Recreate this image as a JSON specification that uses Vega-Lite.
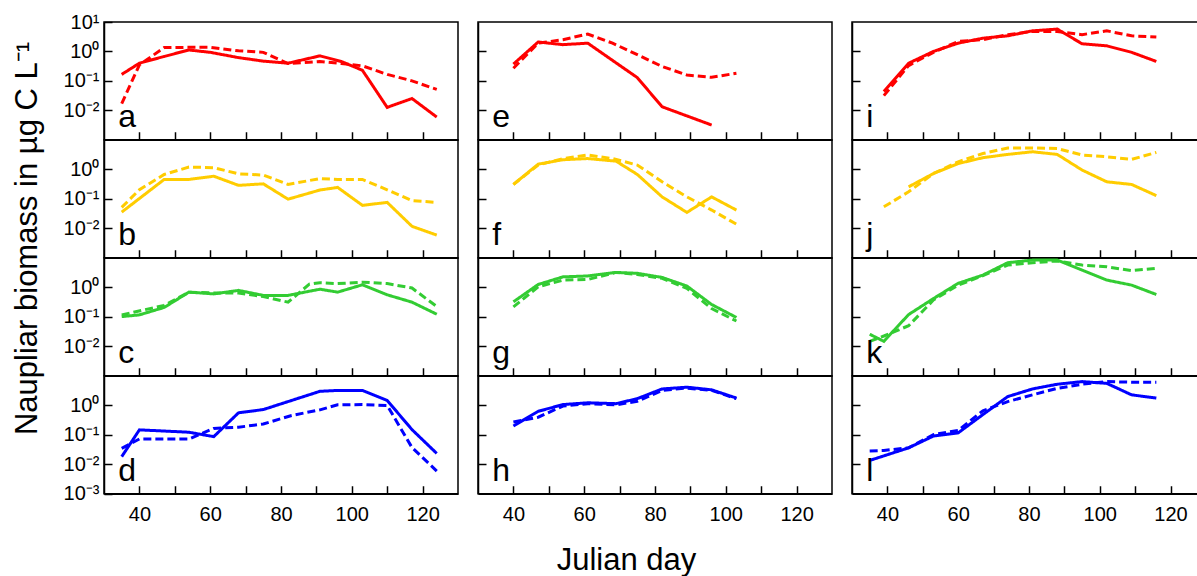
{
"$schema":"https://vega.github.io/schema/vega-lite/v6.json",
"background":"white",
"padding":{"left":10,"top":11,"right":0,"bottom":0},
"datasets":{
"bio":[
{"p":"a","s":"A","day":35,"v":0.166},{"p":"a","s":"A","day":40,"v":0.398},{"p":"a","s":"A","day":47,"v":0.676},{"p":"a","s":"A","day":54,"v":1.12},{"p":"a","s":"A","day":60,"v":0.933},{"p":"a","s":"A","day":68,"v":0.617},{"p":"a","s":"A","day":75,"v":0.468},{"p":"a","s":"A","day":82,"v":0.398},{"p":"a","s":"A","day":91,"v":0.708},{"p":"a","s":"A","day":97,"v":0.457},{"p":"a","s":"A","day":103,"v":0.229},{"p":"a","s":"A","day":110,"v":0.0126},{"p":"a","s":"A","day":117,"v":0.0251},{"p":"a","s":"A","day":124,"v":0.0059},
{"p":"a","s":"B","day":35,"v":0.017},{"p":"a","s":"B","day":40,"v":0.35},{"p":"a","s":"B","day":47,"v":1.35},{"p":"a","s":"B","day":54,"v":1.38},{"p":"a","s":"B","day":60,"v":1.38},{"p":"a","s":"B","day":68,"v":1.05},{"p":"a","s":"B","day":75,"v":0.93},{"p":"a","s":"B","day":82,"v":0.389},{"p":"a","s":"B","day":91,"v":0.457},{"p":"a","s":"B","day":97,"v":0.39},{"p":"a","s":"B","day":103,"v":0.324},{"p":"a","s":"B","day":110,"v":0.166},{"p":"a","s":"B","day":117,"v":0.1},{"p":"a","s":"B","day":124,"v":0.0513},
{"p":"b","s":"A","day":35,"v":0.0355},{"p":"b","s":"A","day":47,"v":0.457},{"p":"b","s":"A","day":54,"v":0.457},{"p":"b","s":"A","day":61,"v":0.589},{"p":"b","s":"A","day":68,"v":0.288},{"p":"b","s":"A","day":75,"v":0.324},{"p":"b","s":"A","day":82,"v":0.0977},{"p":"b","s":"A","day":91,"v":0.2},{"p":"b","s":"A","day":96,"v":0.245},{"p":"b","s":"A","day":103,"v":0.0603},{"p":"b","s":"A","day":110,"v":0.0759},{"p":"b","s":"A","day":117,"v":0.0117},{"p":"b","s":"A","day":124,"v":0.0059},
{"p":"b","s":"B","day":35,"v":0.0513},{"p":"b","s":"B","day":40,"v":0.204},{"p":"b","s":"B","day":47,"v":0.676},{"p":"b","s":"B","day":54,"v":1.2},{"p":"b","s":"B","day":61,"v":1.15},{"p":"b","s":"B","day":68,"v":0.708},{"p":"b","s":"B","day":75,"v":0.646},{"p":"b","s":"B","day":82,"v":0.309},{"p":"b","s":"B","day":91,"v":0.49},{"p":"b","s":"B","day":96,"v":0.457},{"p":"b","s":"B","day":103,"v":0.457},{"p":"b","s":"B","day":110,"v":0.204},{"p":"b","s":"B","day":117,"v":0.087},{"p":"b","s":"B","day":124,"v":0.0759},
{"p":"c","s":"A","day":35,"v":0.102},{"p":"c","s":"A","day":40,"v":0.117},{"p":"c","s":"A","day":47,"v":0.209},{"p":"c","s":"A","day":54,"v":0.692},{"p":"c","s":"A","day":61,"v":0.603},{"p":"c","s":"A","day":68,"v":0.794},{"p":"c","s":"A","day":75,"v":0.537},{"p":"c","s":"A","day":82,"v":0.537},{"p":"c","s":"A","day":91,"v":0.871},{"p":"c","s":"A","day":96,"v":0.692},{"p":"c","s":"A","day":103,"v":1.23},{"p":"c","s":"A","day":110,"v":0.562},{"p":"c","s":"A","day":117,"v":0.316},{"p":"c","s":"A","day":124,"v":0.123},
{"p":"c","s":"B","day":35,"v":0.117},{"p":"c","s":"B","day":47,"v":0.245},{"p":"c","s":"B","day":54,"v":0.692},{"p":"c","s":"B","day":61,"v":0.646},{"p":"c","s":"B","day":68,"v":0.646},{"p":"c","s":"B","day":75,"v":0.49},{"p":"c","s":"B","day":82,"v":0.316},{"p":"c","s":"B","day":88,"v":1.29},{"p":"c","s":"B","day":91,"v":1.45},{"p":"c","s":"B","day":96,"v":1.35},{"p":"c","s":"B","day":103,"v":1.51},{"p":"c","s":"B","day":110,"v":1.35},{"p":"c","s":"B","day":117,"v":0.955},{"p":"c","s":"B","day":124,"v":0.224},
{"p":"d","s":"A","day":35,"v":0.0182},{"p":"d","s":"A","day":40,"v":0.148},{"p":"d","s":"A","day":54,"v":0.123},{"p":"d","s":"A","day":61,"v":0.087},{"p":"d","s":"A","day":68,"v":0.562},{"p":"d","s":"A","day":75,"v":0.724},{"p":"d","s":"A","day":91,"v":3.02},{"p":"d","s":"A","day":96,"v":3.24},{"p":"d","s":"A","day":103,"v":3.24},{"p":"d","s":"A","day":110,"v":1.48},{"p":"d","s":"A","day":117,"v":0.151},{"p":"d","s":"A","day":124,"v":0.0234},
{"p":"d","s":"B","day":35,"v":0.0347},{"p":"d","s":"B","day":40,"v":0.0724},{"p":"d","s":"B","day":54,"v":0.0724},{"p":"d","s":"B","day":61,"v":0.166},{"p":"d","s":"B","day":68,"v":0.182},{"p":"d","s":"B","day":75,"v":0.234},{"p":"d","s":"B","day":83,"v":0.457},{"p":"d","s":"B","day":91,"v":0.708},{"p":"d","s":"B","day":96,"v":1.05},{"p":"d","s":"B","day":103,"v":1.07},{"p":"d","s":"B","day":110,"v":1.0},{"p":"d","s":"B","day":117,"v":0.0372},{"p":"d","s":"B","day":124,"v":0.0059},
{"p":"e","s":"A","day":40,"v":0.372},{"p":"e","s":"A","day":47,"v":2.09},{"p":"e","s":"A","day":54,"v":1.7},{"p":"e","s":"A","day":61,"v":1.91},{"p":"e","s":"A","day":75,"v":0.129},{"p":"e","s":"A","day":82,"v":0.0132},{"p":"e","s":"A","day":96,"v":0.00316},
{"p":"e","s":"B","day":40,"v":0.269},{"p":"e","s":"B","day":47,"v":1.91},{"p":"e","s":"B","day":54,"v":2.51},{"p":"e","s":"B","day":61,"v":3.89},{"p":"e","s":"B","day":68,"v":1.91},{"p":"e","s":"B","day":75,"v":0.776},{"p":"e","s":"B","day":82,"v":0.309},{"p":"e","s":"B","day":89,"v":0.158},{"p":"e","s":"B","day":96,"v":0.132},{"p":"e","s":"B","day":103,"v":0.182},
{"p":"f","s":"A","day":40,"v":0.309},{"p":"f","s":"A","day":47,"v":1.51},{"p":"f","s":"A","day":54,"v":2.14},{"p":"f","s":"A","day":61,"v":2.34},{"p":"f","s":"A","day":69,"v":1.91},{"p":"f","s":"A","day":75,"v":0.676},{"p":"f","s":"A","day":82,"v":0.117},{"p":"f","s":"A","day":89,"v":0.0347},{"p":"f","s":"A","day":96,"v":0.117},{"p":"f","s":"A","day":103,"v":0.0417},
{"p":"f","s":"B","day":40,"v":0.309},{"p":"f","s":"B","day":47,"v":1.41},{"p":"f","s":"B","day":54,"v":2.34},{"p":"f","s":"B","day":61,"v":3.09},{"p":"f","s":"B","day":68,"v":2.34},{"p":"f","s":"B","day":75,"v":1.41},{"p":"f","s":"B","day":82,"v":0.38},{"p":"f","s":"B","day":89,"v":0.117},{"p":"f","s":"B","day":96,"v":0.0417},{"p":"f","s":"B","day":103,"v":0.0138},
{"p":"g","s":"A","day":40,"v":0.324},{"p":"g","s":"A","day":47,"v":1.26},{"p":"g","s":"A","day":54,"v":2.29},{"p":"g","s":"A","day":61,"v":2.45},{"p":"g","s":"A","day":69,"v":3.24},{"p":"g","s":"A","day":75,"v":3.02},{"p":"g","s":"A","day":82,"v":2.19},{"p":"g","s":"A","day":89,"v":1.12},{"p":"g","s":"A","day":96,"v":0.263},{"p":"g","s":"A","day":103,"v":0.0955},
{"p":"g","s":"B","day":40,"v":0.219},{"p":"g","s":"B","day":47,"v":1.05},{"p":"g","s":"B","day":54,"v":1.78},{"p":"g","s":"B","day":61,"v":1.86},{"p":"g","s":"B","day":69,"v":3.24},{"p":"g","s":"B","day":75,"v":2.75},{"p":"g","s":"B","day":82,"v":2.04},{"p":"g","s":"B","day":89,"v":0.933},{"p":"g","s":"B","day":96,"v":0.191},{"p":"g","s":"B","day":103,"v":0.0724},
{"p":"h","s":"A","day":40,"v":0.2},{"p":"h","s":"A","day":47,"v":0.631},{"p":"h","s":"A","day":54,"v":1.07},{"p":"h","s":"A","day":61,"v":1.23},{"p":"h","s":"A","day":69,"v":1.15},{"p":"h","s":"A","day":75,"v":1.7},{"p":"h","s":"A","day":82,"v":3.63},{"p":"h","s":"A","day":89,"v":4.17},{"p":"h","s":"A","day":96,"v":3.39},{"p":"h","s":"A","day":103,"v":1.78},
{"p":"h","s":"B","day":40,"v":0.275},{"p":"h","s":"B","day":47,"v":0.398},{"p":"h","s":"B","day":54,"v":0.955},{"p":"h","s":"B","day":61,"v":1.15},{"p":"h","s":"B","day":69,"v":1.05},{"p":"h","s":"B","day":75,"v":1.38},{"p":"h","s":"B","day":82,"v":3.24},{"p":"h","s":"B","day":89,"v":3.89},{"p":"h","s":"B","day":96,"v":3.24},{"p":"h","s":"B","day":103,"v":1.7},
{"p":"i","s":"A","day":39,"v":0.0437},{"p":"i","s":"A","day":46,"v":0.398},{"p":"i","s":"A","day":53,"v":1.0},{"p":"i","s":"A","day":60,"v":1.91},{"p":"i","s":"A","day":67,"v":2.82},{"p":"i","s":"A","day":74,"v":3.39},{"p":"i","s":"A","day":81,"v":5.01},{"p":"i","s":"A","day":88,"v":5.75},{"p":"i","s":"A","day":95,"v":1.82},{"p":"i","s":"A","day":102,"v":1.55},{"p":"i","s":"A","day":109,"v":0.933},{"p":"i","s":"A","day":116,"v":0.457},
{"p":"i","s":"B","day":39,"v":0.0316},{"p":"i","s":"B","day":46,"v":0.331},{"p":"i","s":"B","day":53,"v":0.933},{"p":"i","s":"B","day":60,"v":2.19},{"p":"i","s":"B","day":67,"v":2.51},{"p":"i","s":"B","day":74,"v":3.72},{"p":"i","s":"B","day":81,"v":4.79},{"p":"i","s":"B","day":88,"v":4.79},{"p":"i","s":"B","day":95,"v":3.72},{"p":"i","s":"B","day":102,"v":5.01},{"p":"i","s":"B","day":109,"v":3.39},{"p":"i","s":"B","day":116,"v":3.09},
{"p":"j","s":"A","day":46,"v":0.257},{"p":"j","s":"A","day":53,"v":0.724},{"p":"j","s":"A","day":60,"v":1.58},{"p":"j","s":"A","day":67,"v":2.51},{"p":"j","s":"A","day":74,"v":3.24},{"p":"j","s":"A","day":81,"v":3.98},{"p":"j","s":"A","day":88,"v":3.24},{"p":"j","s":"A","day":95,"v":0.955},{"p":"j","s":"A","day":102,"v":0.38},{"p":"j","s":"A","day":109,"v":0.309},{"p":"j","s":"A","day":116,"v":0.129},
{"p":"j","s":"B","day":39,"v":0.0537},{"p":"j","s":"B","day":46,"v":0.174},{"p":"j","s":"B","day":53,"v":0.724},{"p":"j","s":"B","day":60,"v":1.82},{"p":"j","s":"B","day":67,"v":3.47},{"p":"j","s":"B","day":74,"v":5.37},{"p":"j","s":"B","day":81,"v":5.37},{"p":"j","s":"B","day":88,"v":5.13},{"p":"j","s":"B","day":95,"v":3.09},{"p":"j","s":"B","day":102,"v":2.69},{"p":"j","s":"B","day":109,"v":2.19},{"p":"j","s":"B","day":116,"v":3.8},
{"p":"k","s":"A","day":35,"v":0.0257},{"p":"k","s":"A","day":39,"v":0.0148},{"p":"k","s":"A","day":46,"v":0.12},{"p":"k","s":"A","day":53,"v":0.417},{"p":"k","s":"A","day":60,"v":1.38},{"p":"k","s":"A","day":67,"v":2.63},{"p":"k","s":"A","day":74,"v":6.92},{"p":"k","s":"A","day":81,"v":8.51},{"p":"k","s":"A","day":88,"v":8.51},{"p":"k","s":"A","day":95,"v":3.89},{"p":"k","s":"A","day":102,"v":1.78},{"p":"k","s":"A","day":109,"v":1.2},{"p":"k","s":"A","day":116,"v":0.575},
{"p":"k","s":"B","day":35,"v":0.0148},{"p":"k","s":"B","day":39,"v":0.0224},{"p":"k","s":"B","day":46,"v":0.05},{"p":"k","s":"B","day":53,"v":0.372},{"p":"k","s":"B","day":60,"v":1.2},{"p":"k","s":"B","day":67,"v":2.51},{"p":"k","s":"B","day":74,"v":5.75},{"p":"k","s":"B","day":81,"v":6.92},{"p":"k","s":"B","day":88,"v":7.94},{"p":"k","s":"B","day":95,"v":5.75},{"p":"k","s":"B","day":102,"v":5.01},{"p":"k","s":"B","day":109,"v":3.72},{"p":"k","s":"B","day":116,"v":4.47},
{"p":"l","s":"A","day":35,"v":0.0135},{"p":"l","s":"A","day":46,"v":0.0363},{"p":"l","s":"A","day":53,"v":0.0912},{"p":"l","s":"A","day":60,"v":0.117},{"p":"l","s":"A","day":67,"v":0.49},{"p":"l","s":"A","day":74,"v":2.0},{"p":"l","s":"A","day":81,"v":3.63},{"p":"l","s":"A","day":88,"v":5.25},{"p":"l","s":"A","day":95,"v":6.46},{"p":"l","s":"A","day":102,"v":5.62},{"p":"l","s":"A","day":109,"v":2.29},{"p":"l","s":"A","day":116,"v":1.78},
{"p":"l","s":"B","day":35,"v":0.0282},{"p":"l","s":"B","day":39,"v":0.0295},{"p":"l","s":"B","day":46,"v":0.0363},{"p":"l","s":"B","day":53,"v":0.102},{"p":"l","s":"B","day":60,"v":0.141},{"p":"l","s":"B","day":67,"v":0.661},{"p":"l","s":"B","day":74,"v":1.35},{"p":"l","s":"B","day":81,"v":2.29},{"p":"l","s":"B","day":88,"v":3.8},{"p":"l","s":"B","day":95,"v":5.25},{"p":"l","s":"B","day":102,"v":6.46},{"p":"l","s":"B","day":109,"v":6.17},{"p":"l","s":"B","day":116,"v":6.17}
],
"letters":[{"p":"a"},{"p":"b"},{"p":"c"},{"p":"d"},{"p":"e"},{"p":"f"},{"p":"g"},{"p":"h"},{"p":"i"},{"p":"j"},{"p":"k"},{"p":"l"}]
},
"title":{"text":"Julian day","orient":"bottom","anchor":"middle","font":"Liberation Sans","fontSize":31,"fontWeight":"normal","color":"black","offset":20,"dx":20},
"config":{
"font":"Liberation Sans",
"view":{"stroke":"black","strokeWidth":1.5},
"axis":{"grid":false,"domainColor":"black","domainWidth":1.5,"tickColor":"black","tickWidth":1.5,"tickSize":-8,"labelFont":"Liberation Sans","labelFontSize":20,"labelColor":"black","labelOverlap":false,"labelFlush":false},
"axisX":{"labelPadding":19},
"axisY":{"labelPadding":13},
"text":{"font":"Liberation Sans","fontSize":32,"color":"black","align":"left","baseline":"alphabetic"},
"line":{"strokeWidth":3}
},
"spacing":17,
"hconcat":[
{"spacing":0,"bounds":"flush",
"vconcat":[
{"width":354,"height":117.75,"layer":[
{"data":{"name":"bio"},"transform":[{"filter":"datum.p==='a'"}],"mark":{"type":"line","color":"#ff0000"},"encoding":{
"x":{"field":"day","type":"quantitative","scale":{"domain":[30,130],"nice":false,"zero":false},"axis":{"values":[40,50,60,70,80,90,100,110,120],"labels":false,"title":null}},
"y":{"field":"v","type":"quantitative","scale":{"type":"log","domain":[0.001,10],"nice":false},"axis":{"values":[0.01,0.1,1,10],"title":null,"labelExpr":"datum.value > 5 ? '10¹' : datum.value > 0.5 ? '10⁰' : datum.value > 0.05 ? '10⁻¹' : datum.value > 0.005 ? '10⁻²' : '10⁻³'"}},
"strokeDash":{"field":"s","type":"nominal","scale":{"domain":["A","B"],"range":[[1,0],[8,4]]},"legend":null}}},
{"data":{"name":"letters"},"transform":[{"filter":"datum.p==='a'"}],"mark":{"type":"text"},"encoding":{"x":{"datum":34,"type":"quantitative"},"y":{"datum":0.0028,"type":"quantitative"},"text":{"field":"p"}}}
]},
{"width":354,"height":117.75,"layer":[
{"data":{"name":"bio"},"transform":[{"filter":"datum.p==='b'"}],"mark":{"type":"line","color":"#ffcc00"},"encoding":{
"x":{"field":"day","type":"quantitative","scale":{"domain":[30,130],"nice":false,"zero":false},"axis":{"values":[40,50,60,70,80,90,100,110,120],"labels":false,"title":null}},
"y":{"field":"v","type":"quantitative","scale":{"type":"log","domain":[0.001,10],"nice":false},"axis":{"values":[0.01,0.1,1],"title":"Naupliar biomass in µg C L⁻¹","titleFont":"Liberation Sans","titleFontSize":31,"titleFontWeight":"normal","titleColor":"black","titleAngle":-90,"titleAlign":"center","titleBaseline":"alphabetic","titleX":-68,"titleY":98,"labelExpr":"datum.value > 5 ? '10¹' : datum.value > 0.5 ? '10⁰' : datum.value > 0.05 ? '10⁻¹' : datum.value > 0.005 ? '10⁻²' : '10⁻³'"}},
"strokeDash":{"field":"s","type":"nominal","scale":{"domain":["A","B"],"range":[[1,0],[8,4]]},"legend":null}}},
{"data":{"name":"letters"},"transform":[{"filter":"datum.p==='b'"}],"mark":{"type":"text"},"encoding":{"x":{"datum":34,"type":"quantitative"},"y":{"datum":0.0028,"type":"quantitative"},"text":{"field":"p"}}}
]},
{"width":354,"height":117.75,"layer":[
{"data":{"name":"bio"},"transform":[{"filter":"datum.p==='c'"}],"mark":{"type":"line","color":"#33cc33"},"encoding":{
"x":{"field":"day","type":"quantitative","scale":{"domain":[30,130],"nice":false,"zero":false},"axis":{"values":[40,50,60,70,80,90,100,110,120],"labels":false,"title":null}},
"y":{"field":"v","type":"quantitative","scale":{"type":"log","domain":[0.001,10],"nice":false},"axis":{"values":[0.01,0.1,1],"title":null,"labelExpr":"datum.value > 5 ? '10¹' : datum.value > 0.5 ? '10⁰' : datum.value > 0.05 ? '10⁻¹' : datum.value > 0.005 ? '10⁻²' : '10⁻³'"}},
"strokeDash":{"field":"s","type":"nominal","scale":{"domain":["A","B"],"range":[[1,0],[8,4]]},"legend":null}}},
{"data":{"name":"letters"},"transform":[{"filter":"datum.p==='c'"}],"mark":{"type":"text"},"encoding":{"x":{"datum":34,"type":"quantitative"},"y":{"datum":0.0028,"type":"quantitative"},"text":{"field":"p"}}}
]},
{"width":354,"height":117.75,"layer":[
{"data":{"name":"bio"},"transform":[{"filter":"datum.p==='d'"}],"mark":{"type":"line","color":"#0000ff"},"encoding":{
"x":{"field":"day","type":"quantitative","scale":{"domain":[30,130],"nice":false,"zero":false},"axis":{"values":[40,50,60,70,80,90,100,110,120],"title":null,"labelExpr":"datum.value % 20 === 0 ? datum.label : ''"}},
"y":{"field":"v","type":"quantitative","scale":{"type":"log","domain":[0.001,10],"nice":false},"axis":{"values":[0.001,0.01,0.1,1],"title":null,"labelExpr":"datum.value > 5 ? '10¹' : datum.value > 0.5 ? '10⁰' : datum.value > 0.05 ? '10⁻¹' : datum.value > 0.005 ? '10⁻²' : '10⁻³'"}},
"strokeDash":{"field":"s","type":"nominal","scale":{"domain":["A","B"],"range":[[1,0],[8,4]]},"legend":null}}},
{"data":{"name":"letters"},"transform":[{"filter":"datum.p==='d'"}],"mark":{"type":"text"},"encoding":{"x":{"datum":34,"type":"quantitative"},"y":{"datum":0.0028,"type":"quantitative"},"text":{"field":"p"}}}
]}
]},
{"spacing":0,"bounds":"flush","vconcat":[
{"width":354,"height":117.75,"layer":[
{"data":{"name":"bio"},"transform":[{"filter":"datum.p==='e'"}],"mark":{"type":"line","color":"#ff0000"},"encoding":{
"x":{"field":"day","type":"quantitative","scale":{"domain":[30,130],"nice":false,"zero":false},"axis":{"values":[40,50,60,70,80,90,100,110,120],"labels":false,"title":null}},
"y":{"field":"v","type":"quantitative","scale":{"type":"log","domain":[0.001,10],"nice":false},"axis":{"values":[0.01,0.1,1],"title":null,"labels":false}},
"strokeDash":{"field":"s","type":"nominal","scale":{"domain":["A","B"],"range":[[1,0],[8,4]]},"legend":null}}},
{"data":{"name":"letters"},"transform":[{"filter":"datum.p==='e'"}],"mark":{"type":"text"},"encoding":{"x":{"datum":34,"type":"quantitative"},"y":{"datum":0.0028,"type":"quantitative"},"text":{"field":"p"}}}
]},
{"width":354,"height":117.75,"layer":[
{"data":{"name":"bio"},"transform":[{"filter":"datum.p==='f'"}],"mark":{"type":"line","color":"#ffcc00"},"encoding":{
"x":{"field":"day","type":"quantitative","scale":{"domain":[30,130],"nice":false,"zero":false},"axis":{"values":[40,50,60,70,80,90,100,110,120],"labels":false,"title":null}},
"y":{"field":"v","type":"quantitative","scale":{"type":"log","domain":[0.001,10],"nice":false},"axis":{"values":[0.01,0.1,1],"title":null,"labels":false}},
"strokeDash":{"field":"s","type":"nominal","scale":{"domain":["A","B"],"range":[[1,0],[8,4]]},"legend":null}}},
{"data":{"name":"letters"},"transform":[{"filter":"datum.p==='f'"}],"mark":{"type":"text"},"encoding":{"x":{"datum":34,"type":"quantitative"},"y":{"datum":0.0028,"type":"quantitative"},"text":{"field":"p"}}}
]},
{"width":354,"height":117.75,"layer":[
{"data":{"name":"bio"},"transform":[{"filter":"datum.p==='g'"}],"mark":{"type":"line","color":"#33cc33"},"encoding":{
"x":{"field":"day","type":"quantitative","scale":{"domain":[30,130],"nice":false,"zero":false},"axis":{"values":[40,50,60,70,80,90,100,110,120],"labels":false,"title":null}},
"y":{"field":"v","type":"quantitative","scale":{"type":"log","domain":[0.001,10],"nice":false},"axis":{"values":[0.01,0.1,1],"title":null,"labels":false}},
"strokeDash":{"field":"s","type":"nominal","scale":{"domain":["A","B"],"range":[[1,0],[8,4]]},"legend":null}}},
{"data":{"name":"letters"},"transform":[{"filter":"datum.p==='g'"}],"mark":{"type":"text"},"encoding":{"x":{"datum":34,"type":"quantitative"},"y":{"datum":0.0028,"type":"quantitative"},"text":{"field":"p"}}}
]},
{"width":354,"height":117.75,"layer":[
{"data":{"name":"bio"},"transform":[{"filter":"datum.p==='h'"}],"mark":{"type":"line","color":"#0000ff"},"encoding":{
"x":{"field":"day","type":"quantitative","scale":{"domain":[30,130],"nice":false,"zero":false},"axis":{"values":[40,50,60,70,80,90,100,110,120],"title":null,"labelExpr":"datum.value % 20 === 0 ? datum.label : ''"}},
"y":{"field":"v","type":"quantitative","scale":{"type":"log","domain":[0.001,10],"nice":false},"axis":{"values":[0.01,0.1,1],"title":null,"labels":false}},
"strokeDash":{"field":"s","type":"nominal","scale":{"domain":["A","B"],"range":[[1,0],[8,4]]},"legend":null}}},
{"data":{"name":"letters"},"transform":[{"filter":"datum.p==='h'"}],"mark":{"type":"text"},"encoding":{"x":{"datum":34,"type":"quantitative"},"y":{"datum":0.0028,"type":"quantitative"},"text":{"field":"p"}}}
]}
]},
{"spacing":0,"bounds":"flush","vconcat":[
{"width":350,"height":117.75,"layer":[
{"data":{"name":"bio"},"transform":[{"filter":"datum.p==='i'"}],"mark":{"type":"line","color":"#ff0000"},"encoding":{
"x":{"field":"day","type":"quantitative","scale":{"domain":[30,128.9],"nice":false,"zero":false},"axis":{"values":[40,50,60,70,80,90,100,110,120],"labels":false,"title":null}},
"y":{"field":"v","type":"quantitative","scale":{"type":"log","domain":[0.001,10],"nice":false},"axis":{"values":[0.01,0.1,1],"title":null,"labels":false}},
"strokeDash":{"field":"s","type":"nominal","scale":{"domain":["A","B"],"range":[[1,0],[8,4]]},"legend":null}}},
{"data":{"name":"letters"},"transform":[{"filter":"datum.p==='i'"}],"mark":{"type":"text"},"encoding":{"x":{"datum":34,"type":"quantitative"},"y":{"datum":0.0028,"type":"quantitative"},"text":{"field":"p"}}}
]},
{"width":350,"height":117.75,"layer":[
{"data":{"name":"bio"},"transform":[{"filter":"datum.p==='j'"}],"mark":{"type":"line","color":"#ffcc00"},"encoding":{
"x":{"field":"day","type":"quantitative","scale":{"domain":[30,128.9],"nice":false,"zero":false},"axis":{"values":[40,50,60,70,80,90,100,110,120],"labels":false,"title":null}},
"y":{"field":"v","type":"quantitative","scale":{"type":"log","domain":[0.001,10],"nice":false},"axis":{"values":[0.01,0.1,1],"title":null,"labels":false}},
"strokeDash":{"field":"s","type":"nominal","scale":{"domain":["A","B"],"range":[[1,0],[8,4]]},"legend":null}}},
{"data":{"name":"letters"},"transform":[{"filter":"datum.p==='j'"}],"mark":{"type":"text"},"encoding":{"x":{"datum":34,"type":"quantitative"},"y":{"datum":0.0028,"type":"quantitative"},"text":{"field":"p"}}}
]},
{"width":350,"height":117.75,"layer":[
{"data":{"name":"bio"},"transform":[{"filter":"datum.p==='k'"}],"mark":{"type":"line","color":"#33cc33"},"encoding":{
"x":{"field":"day","type":"quantitative","scale":{"domain":[30,128.9],"nice":false,"zero":false},"axis":{"values":[40,50,60,70,80,90,100,110,120],"labels":false,"title":null}},
"y":{"field":"v","type":"quantitative","scale":{"type":"log","domain":[0.001,10],"nice":false},"axis":{"values":[0.01,0.1,1],"title":null,"labels":false}},
"strokeDash":{"field":"s","type":"nominal","scale":{"domain":["A","B"],"range":[[1,0],[8,4]]},"legend":null}}},
{"data":{"name":"letters"},"transform":[{"filter":"datum.p==='k'"}],"mark":{"type":"text"},"encoding":{"x":{"datum":34,"type":"quantitative"},"y":{"datum":0.0028,"type":"quantitative"},"text":{"field":"p"}}}
]},
{"width":350,"height":117.75,"layer":[
{"data":{"name":"bio"},"transform":[{"filter":"datum.p==='l'"}],"mark":{"type":"line","color":"#0000ff"},"encoding":{
"x":{"field":"day","type":"quantitative","scale":{"domain":[30,128.9],"nice":false,"zero":false},"axis":{"values":[40,50,60,70,80,90,100,110,120],"title":null,"labelExpr":"datum.value % 20 === 0 ? datum.label : ''"}},
"y":{"field":"v","type":"quantitative","scale":{"type":"log","domain":[0.001,10],"nice":false},"axis":{"values":[0.01,0.1,1],"title":null,"labels":false}},
"strokeDash":{"field":"s","type":"nominal","scale":{"domain":["A","B"],"range":[[1,0],[8,4]]},"legend":null}}},
{"data":{"name":"letters"},"transform":[{"filter":"datum.p==='l'"}],"mark":{"type":"text"},"encoding":{"x":{"datum":34,"type":"quantitative"},"y":{"datum":0.0028,"type":"quantitative"},"text":{"field":"p"}}}
]}
]}
]
}
